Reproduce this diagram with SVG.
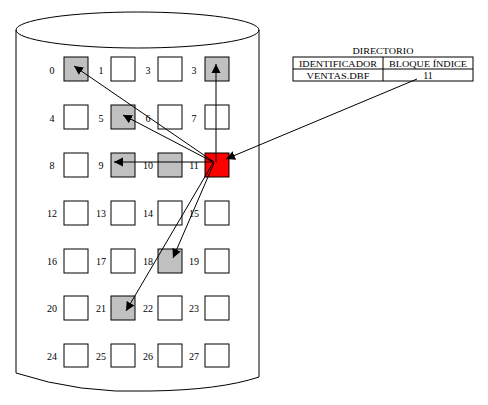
<svg xmlns="http://www.w3.org/2000/svg" width="488" height="405" viewBox="0 0 488 405">
<style>
.cyl{fill:none;stroke:#000;stroke-width:1}
.blk{fill:#fff;stroke:#000;stroke-width:1}
.g{fill:#c0c0c0}
.r{fill:#ff0000}
.lbl{font-family:"Liberation Serif",serif;font-size:10px;text-anchor:middle;fill:#000}
.tb{font-family:"Liberation Serif",serif;font-size:9px;text-anchor:middle;fill:#000}
.con{stroke:#000;stroke-width:1;fill:none;marker-end:url(#ah)}
</style>
<defs>
<marker id="ah" markerWidth="10" markerHeight="10" refX="9" refY="5" orient="auto" markerUnits="userSpaceOnUse">
<path d="M0,0.5 L9,5 L0,9.5 Z" fill="#000"/>
</marker>
</defs>
<rect width="488" height="405" fill="#fff"/>
<g id="cylinder">
<ellipse class="cyl" cx="137.5" cy="30" rx="121.5" ry="18"/>
<path class="cyl" d="M16,30 L16,373 Q80,394 150,391 Q220,390 259,377 L259,30"/>
</g>
<g id="blocks">
<g id="b0"><rect class="blk g" x="64" y="57" width="24" height="24"/><text class="lbl" x="52" y="73.5">0</text></g>
<g id="b1"><rect class="blk" x="111" y="57" width="24" height="24"/><text class="lbl" x="101" y="73.5">1</text></g>
<g id="b2"><rect class="blk" x="158" y="57" width="24" height="24"/><text class="lbl" x="148" y="73.5">3</text></g>
<g id="b3"><rect class="blk g" x="205" y="57" width="24" height="24"/><text class="lbl" x="194" y="73.5">3</text></g>
<g id="b4"><rect class="blk" x="64" y="105" width="24" height="24"/><text class="lbl" x="52" y="121.5">4</text></g>
<g id="b5"><rect class="blk g" x="111" y="105" width="24" height="24"/><text class="lbl" x="101" y="121.5">5</text></g>
<g id="b6"><rect class="blk" x="158" y="105" width="24" height="24"/><text class="lbl" x="148" y="121.5">6</text></g>
<g id="b7"><rect class="blk" x="205" y="105" width="24" height="24"/><text class="lbl" x="194" y="121.5">7</text></g>
<g id="b8"><rect class="blk" x="64" y="153" width="24" height="24"/><text class="lbl" x="52" y="169">8</text></g>
<g id="b9"><rect class="blk g" x="111" y="153" width="24" height="24"/><text class="lbl" x="101" y="169">9</text></g>
<g id="b10"><rect class="blk g" x="158" y="153" width="24" height="24"/><text class="lbl" x="148" y="169">10</text></g>
<g id="b11"><rect class="blk r" x="205" y="153" width="24" height="24"/><text class="lbl" x="194" y="169">11</text></g>
<g id="b12"><rect class="blk" x="64" y="201" width="24" height="24"/><text class="lbl" x="52" y="217">12</text></g>
<g id="b13"><rect class="blk" x="111" y="201" width="24" height="24"/><text class="lbl" x="101" y="217">13</text></g>
<g id="b14"><rect class="blk" x="158" y="201" width="24" height="24"/><text class="lbl" x="148" y="217">14</text></g>
<g id="b15"><rect class="blk" x="205" y="201" width="24" height="24"/><text class="lbl" x="194" y="217">15</text></g>
<g id="b16"><rect class="blk" x="64" y="249" width="24" height="24"/><text class="lbl" x="52" y="264.5">16</text></g>
<g id="b17"><rect class="blk" x="111" y="249" width="24" height="24"/><text class="lbl" x="101" y="264.5">17</text></g>
<g id="b18"><rect class="blk g" x="158" y="249" width="24" height="24"/><text class="lbl" x="148" y="264.5">18</text></g>
<g id="b19"><rect class="blk" x="205" y="249" width="24" height="24"/><text class="lbl" x="194" y="264.5">19</text></g>
<g id="b20"><rect class="blk" x="64" y="296" width="24" height="24"/><text class="lbl" x="52" y="312">20</text></g>
<g id="b21"><rect class="blk g" x="111" y="296" width="24" height="24"/><text class="lbl" x="101" y="312">21</text></g>
<g id="b22"><rect class="blk" x="158" y="296" width="24" height="24"/><text class="lbl" x="148" y="312">22</text></g>
<g id="b23"><rect class="blk" x="205" y="296" width="24" height="24"/><text class="lbl" x="194" y="312">23</text></g>
<g id="b24"><rect class="blk" x="64" y="344" width="24" height="23"/><text class="lbl" x="52" y="360">24</text></g>
<g id="b25"><rect class="blk" x="111" y="344" width="24" height="23"/><text class="lbl" x="101" y="360">25</text></g>
<g id="b26"><rect class="blk" x="158" y="344" width="24" height="23"/><text class="lbl" x="148" y="360">26</text></g>
<g id="b27"><rect class="blk" x="205" y="344" width="24" height="23"/><text class="lbl" x="194" y="360">27</text></g>
</g>
<g id="directorio">
<text class="tb" x="383" y="54" textLength="61" lengthAdjust="spacingAndGlyphs">DIRECTORIO</text>
<rect x="293" y="57" width="180" height="24" fill="none" stroke="#000"/>
<line x1="293" y1="69" x2="473" y2="69" stroke="#000"/>
<line x1="383" y1="57" x2="383" y2="81" stroke="#000"/>
<text class="tb" x="338" y="66.5" textLength="78" lengthAdjust="spacingAndGlyphs">IDENTIFICADOR</text>
<text class="tb" x="428" y="66.5" textLength="78" lengthAdjust="spacingAndGlyphs">BLOQUE ÍNDICE</text>
<text class="tb" x="338" y="78.5" textLength="63" lengthAdjust="spacingAndGlyphs">VENTAS.DBF</text>
<text class="tb" x="428" y="78.5" style="font-size:10px">11</text>
</g>
<g id="connectors">
<line class="con" x1="216" y1="162" x2="216" y2="64"/>
<line class="con" x1="214" y1="162" x2="74" y2="66"/>
<line class="con" x1="213" y1="162" x2="123" y2="115"/>
<line class="con" x1="214" y1="162" x2="114" y2="162"/>
<line class="con" x1="214" y1="163" x2="173" y2="258"/>
<line class="con" x1="213" y1="163" x2="126" y2="311"/>
<line class="con" x1="417" y1="79" x2="226" y2="159"/>
</g>
</svg>
